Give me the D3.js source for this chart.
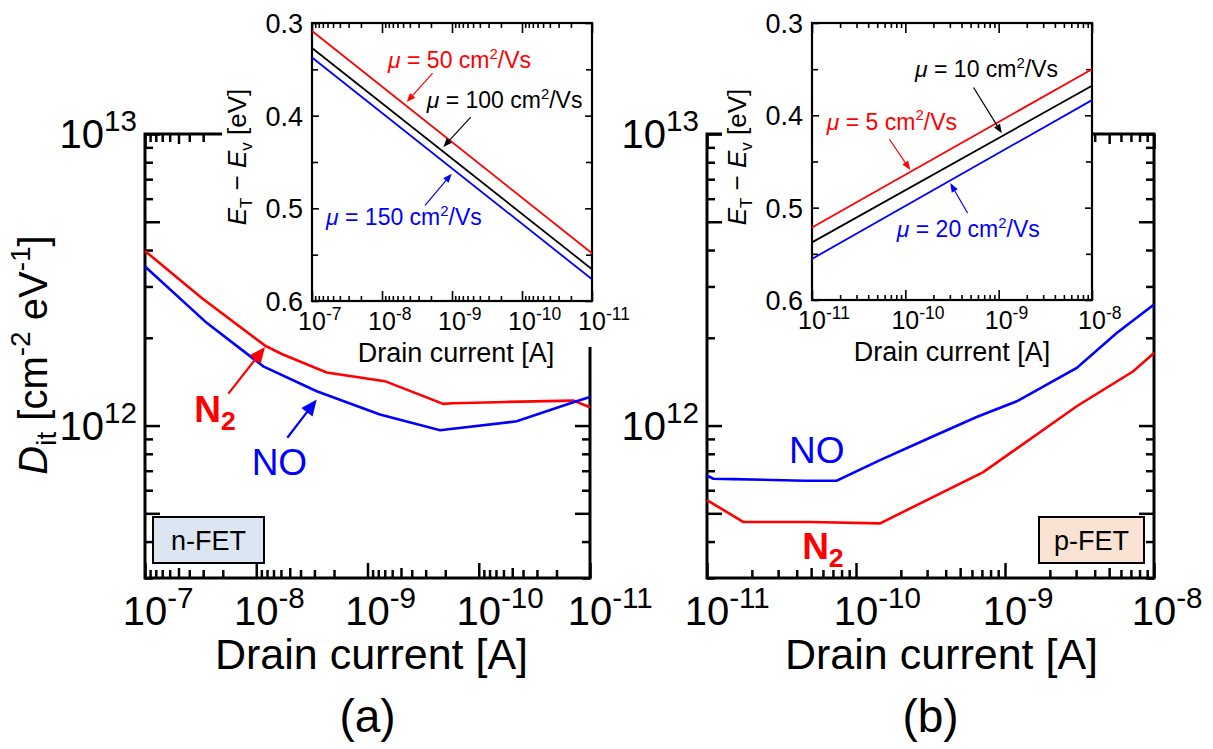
<!DOCTYPE html>
<html lang="en">
<head>
<meta charset="UTF-8">
<title>Dit vs drain current, n-FET and p-FET</title>
<script src="https://cdn.jsdelivr.net/npm/d3@7"></script>
<style>
  body{margin:0;background:#fff}
  text{font-family:"Liberation Sans",Arial,sans-serif;fill:#000}
</style>
</head>
<body>
<svg id="fig" width="1213" height="749"></svg>
<script>
// ---- n-FET main panel (Dit vs drain current) ----
var nN2Current=[1e-7,3.09e-8,8.34e-9,5.9e-9,2.33e-9,6.97e-10,2.08e-10,1.71e-10,5.61e-11,1.41e-11,1e-11];
var nN2Dit=[3.97e12,2.74e12,1.88e12,1.76e12,1.52e12,1.42e12,1.187e12,1.193e12,1.205e12,1.218e12,1.155e12];
var nNOCurrent=[1e-7,2.79e-8,8.64e-9,2.86e-9,7.73e-10,2.23e-10,4.56e-11,1.41e-11,1e-11];
var nNODit=[3.51e12,2.25e12,1.596e12,1.311e12,1.091e12,9.64e11,1.034e12,1.202e12,1.253e12];
// ---- p-FET main panel ----
var pNOCurrent=[1e-11,1.10e-11,1.50e-11,4.55e-11,7.42e-11,1.45e-10,3.30e-10,6.45e-10,1.20e-9,3.03e-9,5.62e-9,1e-8];
var pNODit=[6.74e11,6.57e11,6.55e11,6.47e11,6.47e11,7.61e11,9.19e11,1.07e12,1.211e12,1.576e12,2.077e12,2.60e12];
var pN2Current=[1e-11,1.75e-11,4.91e-11,1.45e-10,7.15e-10,3.03e-9,7.26e-9,1e-8];
var pN2Dit=[5.55e11,4.67e11,4.67e11,4.62e11,6.92e11,1.165e12,1.535e12,1.774e12];
// ---- insets: trap level vs drain current ----
var nInsetCurrent=[1e-7,1e-11];
var nInsetMu50=[0.3086,0.5485];
var nInsetMu100=[0.327,0.5657];
var nInsetMu150=[0.3373,0.5765];
var pInsetCurrent=[1e-11,1e-8];
var pInsetMu5=[0.5214,0.35];
var pInsetMu10=[0.5376,0.368];
var pInsetMu20=[0.5555,0.3835];
// ---- tick labels ----
var nCurrentTicks=[1e-7,1e-8,1e-9,1e-10,1e-11];
var pCurrentTicks=[1e-11,1e-10,1e-9,1e-8];
var ditTicks=[1e12,1e13];
var energyTicks=[0.3,0.4,0.5,0.6];

var RED="#ff0000", BLUE="#0000ff";
var svg=d3.select("#fig");

// text with sub/superscripts; parts = [{t, sup, sub, it, b}]
function rich(g,x,y,parts,size,anchor,subScale){
  var t=g.append("text").attr("x",x).attr("y",y).attr("font-size",size)
    .attr("text-anchor",anchor||"start");
  var shift=0, sc=subScale||0.68;
  parts.forEach(function(p){
    var s=p.sup? -0.42*size : (p.sub? 0.22*size : 0);
    var sp=t.append("tspan").attr("dy",s-shift).text(p.t);
    shift=s;
    if(p.sup||p.sub) sp.attr("font-size",size*sc);
    if(p.it) sp.attr("font-style","italic");
    if(p.b) sp.attr("font-weight","bold");
  });
  return t;
}
function pow10(v){ return [{t:"10"},{t:String(Math.round(Math.log10(v))),sup:true}]; }
function mant(v){ return Math.round(v/Math.pow(10,Math.floor(Math.log10(v)+1e-9))); }

// inward ticks on all four sides using d3 axes
function sideTicks(g,x,y,w,h,groups,sw){
  groups.forEach(function(gr){
    var sets=[
      [d3.axisBottom(x),"translate(0,"+h+")",gr.x],
      [d3.axisTop(x),"translate(0,0)",gr.x],
      [d3.axisLeft(y),"translate(0,0)",gr.y],
      [d3.axisRight(y),"translate("+w+",0)",gr.y]
    ];
    sets.forEach(function(s){
      var ax=s[0].tickValues(s[2].vals).tickSizeInner(-s[2].len).tickSizeOuter(0).tickFormat("");
      var a=g.append("g").attr("transform",s[1]).call(ax);
      a.select(".domain").remove();
      a.selectAll("line").attr("stroke","#000").attr("stroke-width",sw);
    });
  });
}

function arrow(g,x1,y1,x2,y2,color,sw,hl,hw){
  var dx=x2-x1, dy=y2-y1, L=Math.sqrt(dx*dx+dy*dy), ux=dx/L, uy=dy/L;
  var bx=x2-ux*hl, by=y2-uy*hl;
  g.append("line").attr("x1",x1).attr("y1",y1).attr("x2",bx+ux*1).attr("y2",by+uy*1)
    .attr("stroke",color).attr("stroke-width",sw);
  g.append("path").attr("fill",color)
    .attr("d","M"+x2+","+y2+"L"+(bx-uy*hw/2)+","+(by+ux*hw/2)+"L"+(bx+uy*hw/2)+","+(by-ux*hw/2)+"Z");
}

// ---------- main panel ----------
function mainPanel(o){
  var g=svg.append("g").attr("transform","translate("+o.left+","+o.top+")");
  var w=o.width, h=o.height;
  var x=d3.scaleLog().domain(o.xDomain).range([0,w]);
  var y=d3.scaleLog().domain([3e11,1e13]).range([h,0]);
  var xt=x.ticks(), yt=y.ticks();
  sideTicks(g,x,y,w,h,[
    {x:{vals:xt.filter(function(v){return mant(v)!==1&&mant(v)!==5;}),len:8},
     y:{vals:yt.filter(function(v){return mant(v)!==1&&mant(v)!==5;}),len:8}},
    {x:{vals:xt.filter(function(v){return mant(v)===5;}),len:10},
     y:{vals:yt.filter(function(v){return mant(v)===5;}),len:15}},
    {x:{vals:o.xTicks,len:15},y:{vals:ditTicks,len:15}}
  ],2.5);
  g.append("rect").attr("width",w).attr("height",h).attr("fill","none")
    .attr("stroke","#000").attr("stroke-width",3);
  var line=d3.line().x(function(d){return x(d[0]);}).y(function(d){return y(d[1]);});
  o.series.forEach(function(s){
    g.append("path").datum(d3.zip(s.xs,s.ys)).attr("d",line)
      .attr("fill","none").attr("stroke",s.color).attr("stroke-width",2.6);
  });
  // tick labels
  var fs=40;
  o.xTicks.forEach(function(v){
    rich(g,x(v)-0.556*fs,h+47,pow10(v),fs,"start",0.74);
  });
  ditTicks.forEach(function(v){
    rich(g,-8,y(v)+14,pow10(v),fs,"end",0.74);
  });
  g.append("text").attr("x",w/2+o.titleShift).attr("y",h+91).attr("font-size",43)
    .attr("text-anchor","middle").text("Drain current [A]");
  g.append("text").attr("x",w/2).attr("y",h+154).attr("font-size",46)
    .attr("text-anchor","middle").text(o.tag);
  // FET box
  var b=g.append("g").attr("transform","translate("+o.box[0]+","+o.box[1]+")");
  b.append("rect").attr("width",o.box[2]).attr("height",46).attr("fill",o.boxFill)
    .attr("stroke","#000").attr("stroke-width",2);
  b.append("text").attr("x",o.box[2]/2).attr("y",33).attr("font-size",27)
    .attr("text-anchor","middle").text(o.boxText);
  return {g:g,x:x,y:y};
}

// ---------- inset panel ----------
function insetPanel(o){
  var g=svg.append("g").attr("transform","translate("+o.left+","+o.top+")");
  var w=o.width, h=o.height;
  var x=d3.scaleLog().domain(o.xDomain).range([0,w]);
  var y=d3.scaleLinear().domain([0.6,0.3]).range([h,0]);
  var xt=x.ticks();
  sideTicks(g,x,y,w,h,[
    {x:{vals:xt.filter(function(v){return mant(v)!==1;}),len:5},
     y:{vals:[0.35,0.45,0.55],len:6}},
    {x:{vals:o.xTicks,len:10},y:{vals:energyTicks,len:7}}
  ],1.6);
  g.append("rect").attr("width",w).attr("height",h).attr("fill","none")
    .attr("stroke","#000").attr("stroke-width",2.2);
  var line=d3.line().x(function(d){return x(d[0]);}).y(function(d){return y(d[1]);});
  o.series.forEach(function(s){
    g.append("path").datum(d3.zip(o.xs,s.ys)).attr("d",line)
      .attr("fill","none").attr("stroke",s.color).attr("stroke-width",1.8);
  });
  var fs=25;
  o.xTicks.forEach(function(v){
    rich(g,x(v)-0.556*fs,h+29,pow10(v),fs,"start",0.7);
  });
  energyTicks.forEach(function(v){
    g.append("text").attr("x",-9).attr("y",y(v)+10).attr("font-size",27)
      .attr("text-anchor","end").text(v.toFixed(1));
  });
  g.append("text").attr("x",w/2-o.xTitleShift).attr("y",h+61).attr("font-size",27)
    .attr("text-anchor","middle").text("Drain current [A]");
  var yl=g.append("g").attr("transform","translate("+o.yTitleX+","+o.yTitleY+") rotate(-90)");
  rich(yl,0,0,[{t:"E",it:true},{t:"T",sub:true},{t:" \u2212 "},{t:"E",it:true},{t:"v",sub:true},{t:" [eV]"}],26,"middle",0.65);
  o.labels.forEach(function(l){
    rich(g,x(l.at[0]),y(l.at[1]),[{t:"\u03bc",it:true},{t:" = "+l.mu+" cm"},{t:"2",sup:true},{t:"/Vs"}],23,"start",0.65)
      .attr("fill",l.color).selectAll("tspan").style("fill",l.color);
    arrow(g,x(l.from[0]),y(l.from[1]),x(l.to[0]),y(l.to[1]),l.color,1.2,9,7);
  });
}

// ---------- build ----------
var A=mainPanel({left:145,top:134,width:445,height:444,xDomain:[1e-7,1e-11],xTicks:nCurrentTicks,
  series:[{xs:nN2Current,ys:nN2Dit,color:RED},{xs:nNOCurrent,ys:nNODit,color:BLUE}],
  tag:"(a)",titleShift:4,box:[8,383,111],boxFill:"#dce6f2",boxText:"n-FET"});
var B=mainPanel({left:707,top:134,width:447,height:444,xDomain:[1e-11,1e-8],xTicks:pCurrentTicks,
  series:[{xs:pN2Current,ys:pN2Dit,color:RED},{xs:pNOCurrent,ys:pNODit,color:BLUE}],
  tag:"(b)",titleShift:11,box:[332,383,105],boxFill:"#fbe3d4",boxText:"p-FET"});

// shared y title
var yt=svg.append("g").attr("transform","translate(47,355) rotate(-90)");
rich(yt,0,0,[{t:"D",it:true},{t:"it",sub:true},{t:" [cm"},{t:"-2",sup:true},{t:" eV"},{t:"-1",sup:true},{t:"]"}],40,"middle",0.7);

// gas labels and arrows (n-FET)
rich(A.g,A.x(3.6e-8),A.y(1.032e12),[{t:"N",b:true},{t:"2",sub:true,b:true}],37,"start",0.72).selectAll("tspan").style("fill",RED);
arrow(A.g,A.x(1.78e-8),A.y(1.287e12),A.x(8.34e-9),A.y(1.86e12),RED,2.2,16,14);
rich(A.g,A.x(1.1e-8),A.y(6.79e11),[{t:"NO"}],37,"start").selectAll("tspan").style("fill",BLUE);
arrow(A.g,A.x(5.26e-9),A.y(9.08e11),A.x(2.86e-9),A.y(1.228e12),BLUE,2.2,16,14);
// gas labels (p-FET)
rich(B.g,B.x(3.55e-11),B.y(7.46e11),[{t:"NO"}],37,"start").selectAll("tspan").style("fill",BLUE);
rich(B.g,B.x(4.35e-11),B.y(3.48e11),[{t:"N",b:true},{t:"2",sub:true,b:true}],37,"start",0.72).selectAll("tspan").style("fill",RED);

// white backgrounds behind the insets
svg.append("rect").attr("x",222).attr("y",0).attr("width",383).attr("height",300).attr("fill","#fff");
svg.append("rect").attr("x",560).attr("y",300).attr("width",45).attr("height",47).attr("fill","#fff");
svg.append("rect").attr("x",722).attr("y",0).attr("width",370).attr("height",300).attr("fill","#fff");

insetPanel({left:312,top:23,width:280,height:278,xDomain:[1e-7,1e-11],xTicks:nCurrentTicks,xs:nInsetCurrent,
  series:[{ys:nInsetMu50,color:RED},{ys:nInsetMu100,color:"#000"},{ys:nInsetMu150,color:BLUE}],
  xTitleShift:-4,yTitleX:-66,yTitleY:134,
  labels:[
    {mu:50,color:RED,at:[8.2e-9,0.349],from:[1.89e-9,0.354],to:[4.44e-9,0.3853]},
    {mu:100,color:"#000",at:[2.3e-9,0.392],from:[5.4e-10,0.4015],to:[1.33e-9,0.4339]},
    {mu:150,color:BLUE,at:[6.3e-8,0.5185],from:[2.43e-9,0.4969],to:[1.01e-9,0.4626]}
  ]});
insetPanel({left:812,top:23,width:280,height:277,xDomain:[1e-11,1e-8],xTicks:pCurrentTicks,xs:pInsetCurrent,
  series:[{ys:pInsetMu5,color:RED},{ys:pInsetMu10,color:"#000"},{ys:pInsetMu20,color:BLUE}],
  xTitleShift:0,yTitleX:-66,yTitleY:134,
  labels:[
    {mu:10,color:"#000",at:[1.27e-10,0.359],from:[5.38e-10,0.3698],to:[1.08e-9,0.4194]},
    {mu:5,color:RED,at:[1.44e-11,0.4159],from:[6.75e-11,0.4259],to:[1.13e-10,0.4591]},
    {mu:20,color:BLUE,at:[8.1e-11,0.532],from:[4.64e-10,0.5058],to:[3.03e-10,0.4734]}
  ]});
</script>
</body>
</html>
